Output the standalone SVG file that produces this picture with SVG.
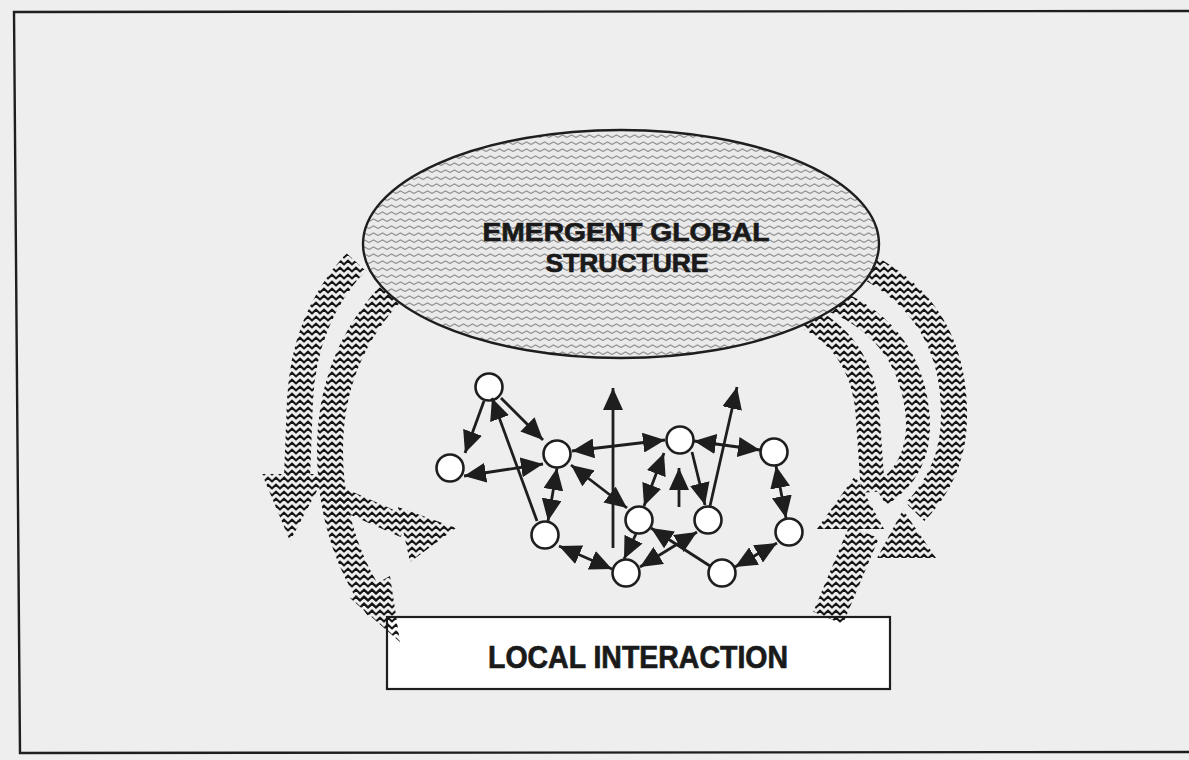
<svg xmlns="http://www.w3.org/2000/svg" width="1189" height="760" viewBox="0 0 1189 760">
  <defs>
    <style>
      .edge { stroke: #1e1e1e; stroke-width: 2.8; fill: none; }
      .one { marker-end: url(#ah); }
      .two { marker-start: url(#ah); marker-end: url(#ah); }
      .node circle { fill: #ffffff; stroke: #1e1e1e; stroke-width: 2.6; }
      .band { fill: none; stroke: url(#zz); stroke-linecap: butt; stroke-linejoin: round; }
      .bandhead { fill: url(#zz); stroke: none; }
      .label { font-family: "Liberation Sans", Arial, sans-serif; font-weight: 700; fill: #1a1a1a; stroke: #1a1a1a; stroke-width: 0.7; text-anchor: middle; }
    </style>
    <!-- dark zigzag hatching used for the feedback bands -->
    <pattern id="zz" width="8" height="7" patternUnits="userSpaceOnUse">
      <path d="M-1,6.2 L0,5.5 L4,1.8 L8,5.5 L9,6.2" fill="none" stroke="#161616" stroke-width="2.1"/>
    </pattern>
    <!-- fine grey zigzag texture for the global structure -->
    <pattern id="ez" width="9" height="7" patternUnits="userSpaceOnUse">
      <rect width="9" height="7" fill="#eaeaea"/>
      <path d="M-1,5 L0,4.5 L4.5,2 L9,4.5 L10,5" fill="none" stroke="#939393" stroke-width="1.1"/>
    </pattern>
    <marker id="ah" viewBox="0 0 22 20" refX="22" refY="10" markerWidth="22" markerHeight="20" markerUnits="userSpaceOnUse" orient="auto-start-reverse">
      <path d="M0,0 L22,10 L0,20 z" fill="#1e1e1e"/>
    </marker>
  </defs>

  <!-- page -->
  <rect x="0" y="0" width="1189" height="760" fill="#eeeeee"/>
  <path d="M1189,11 L14,12 L20,753 L1189,752" fill="none" stroke="#1e1e1e" stroke-width="2.4"/>

  <!-- local interaction box -->
  <g id="local-interaction">
    <rect x="387" y="617" width="503" height="72" fill="#ffffff" stroke="#1e1e1e" stroke-width="2.2"/>
    <text class="label" x="638" y="668" font-size="31" textLength="300" lengthAdjust="spacingAndGlyphs">LOCAL INTERACTION</text>
  </g>

  <!-- feedback bands: downward on the left, upward on the right -->
  <g id="feedback-bands">
    <path class="band" stroke-width="26" d="M356,262 Q304,318 300,400 L297,478"/>
    <polygon class="bandhead" points="262,474 326,474 290,541"/>
    <path class="band" stroke-width="26" d="M396,288 Q330,355 330,450 Q330,540 378,608"/>
    <polygon class="bandhead" points="350,598 390,576 400,642"/>
    <path class="band" stroke-width="22" d="M335,496 L405,527"/>
    <polygon class="bandhead" points="398,507 410,562 456,528"/>

    <path class="band" stroke-width="26" d="M862,264 Q952,308 954,410 Q956,470 915,512"/>
    <path class="band" stroke-width="24" d="M832,300 Q912,333 918,420 Q920,470 880,495"/>
    <path class="band" stroke-width="24" d="M808,318 Q865,348 868,420 L873,492"/>
    <polygon class="bandhead" points="855,476 817,529 884,529"/>
    <polygon class="bandhead" points="903,510 877,558 936,558"/>
    <path class="band" stroke-width="32" d="M864,532 L828,618"/>
  </g>

  <!-- emergent global structure -->
  <g id="global-structure">
    <ellipse cx="621" cy="244" rx="258" ry="114" fill="url(#ez)" stroke="#1e1e1e" stroke-width="2.4"/>
    <text class="label" x="626" y="241" font-size="26" textLength="287" lengthAdjust="spacingAndGlyphs">EMERGENT GLOBAL</text>
    <text class="label" x="627" y="272" font-size="26" textLength="163" lengthAdjust="spacingAndGlyphs">STRUCTURE</text>
  </g>

  <!-- interacting agents -->
  <g id="agent-a" class="node"><circle cx="489" cy="387" r="13.5"/></g>
  <g id="agent-b" class="node"><circle cx="450" cy="468" r="13.5"/></g>
  <g id="agent-c" class="node"><circle cx="557" cy="454" r="13.5"/></g>
  <g id="agent-d" class="node"><circle cx="680" cy="440" r="13.5"/></g>
  <g id="agent-e" class="node"><circle cx="774" cy="452" r="13.5"/></g>
  <g id="agent-f" class="node"><circle cx="545" cy="535" r="13.5"/></g>
  <g id="agent-g" class="node"><circle cx="639" cy="520" r="13.5"/></g>
  <g id="agent-h" class="node"><circle cx="708" cy="520" r="13.5"/></g>
  <g id="agent-i" class="node"><circle cx="789" cy="532" r="13.5"/></g>
  <g id="agent-j" class="node"><circle cx="626" cy="573" r="13.5"/></g>
  <g id="agent-k" class="node"><circle cx="722" cy="573" r="13.5"/></g>

  <!-- interactions -->
  <g id="connectors">
    <line class="edge one" x1="484" y1="401" x2="465" y2="453"/>
    <line class="edge one" x1="501" y1="398" x2="543" y2="440"/>
    <line class="edge one" x1="537" y1="521" x2="492" y2="398"/>
    <line class="edge two" x1="464" y1="476" x2="543" y2="464"/>
    <line class="edge two" x1="572" y1="451" x2="665" y2="440"/>
    <line class="edge two" x1="557" y1="468" x2="548" y2="521"/>
    <line class="edge two" x1="571" y1="465" x2="627" y2="508"/>
    <line class="edge one" x1="613" y1="548" x2="613" y2="388"/>
    <line class="edge one" x1="636" y1="534" x2="624" y2="559"/>
    <line class="edge two" x1="559" y1="546" x2="612" y2="569"/>
    <line class="edge two" x1="640" y1="567" x2="697" y2="532"/>
    <line class="edge one" x1="710" y1="566" x2="651" y2="528"/>
    <line class="edge two" x1="735" y1="567" x2="777" y2="543"/>
    <line class="edge two" x1="776" y1="466" x2="786" y2="518"/>
    <line class="edge two" x1="694" y1="441" x2="760" y2="450"/>
    <line class="edge two" x1="664" y1="453" x2="644" y2="506"/>
    <line class="edge one" x1="679" y1="507" x2="679" y2="468"/>
    <line class="edge one" x1="692" y1="452" x2="705" y2="505"/>
    <line class="edge one" x1="710" y1="506" x2="737" y2="387"/>
  </g>
</svg>
